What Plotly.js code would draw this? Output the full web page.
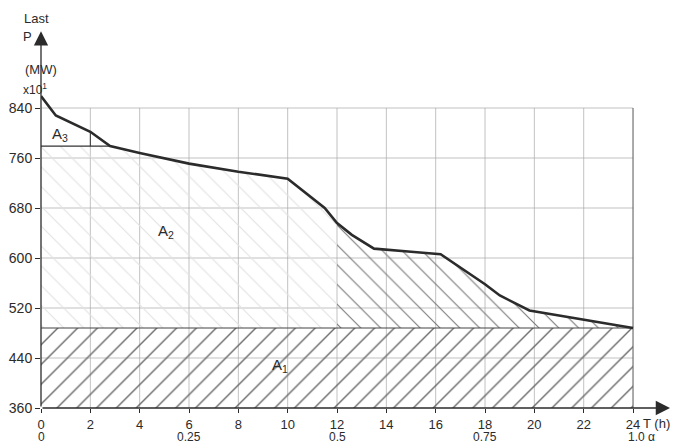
<!DOCTYPE html>
<html>
<head>
<meta charset="utf-8">
<script src="https://cdn.plot.ly/plotly-3.0.1.min.js"></script>
<style>html,body{margin:0;padding:0;background:#fff;}#chart{width:676px;height:443px;}</style>
</head>
<body>
<div id="chart"></div>
<script>
// Load duration curve (hours vs. load, MW x10)
const hours = [0, 0.6, 2.0, 2.8, 4, 6, 8, 10, 11.5, 12, 12.6, 13.5, 15, 16.2, 18, 18.6, 19.8, 22, 24];
const load  = [859, 828, 802, 779, 768, 751, 738, 727, 680, 656, 637, 615, 610, 606, 558, 540, 516, 501, 488];
const baseLoad = 488;      // A1 upper boundary
const peakLimit = 779;     // A3 lower boundary
const peakLimitEnd = 2.8;  // where A3 boundary meets the curve
const splitHour = 12;      // faint / dense hatching boundary in A2
const xTickVals = [0, 2, 4, 6, 8, 10, 12, 14, 16, 18, 20, 22, 24];
const yTickVals = [360, 440, 520, 600, 680, 760, 840];
const fracPos = [0, 6, 12, 18, 24];
const fracLabels = ['0', '0.25', '0.5', '0.75', '1.0 α'];
const gridX = [2, 4, 6, 8, 10, 12, 14, 16, 18, 20, 22];
const gridY = [440, 520, 600, 680, 760, 840];
const yMin = 360, yTop = 840, xEnd = 24;

const ink = '#2b2b2b';
const font = 'Liberation Sans, Arial, sans-serif';

// A2 polygons
function curveBetween(a, b) {
  const xs = [], ys = [];
  hours.forEach((h, i) => { if (h >= a && h <= b) { xs.push(h); ys.push(load[i]); } });
  return [xs, ys];
}
const [lx, ly] = curveBetween(peakLimitEnd, splitHour);
const a2Left = {
  x: [0, 0].concat(lx, [splitHour, 0]),
  y: [baseLoad, peakLimit].concat(ly, [baseLoad, baseLoad])
};
const [rx, ry] = curveBetween(splitHour, xEnd);
const a2Right = {
  x: [splitHour].concat(rx, [xEnd, splitHour]),
  y: [baseLoad].concat(ry, [baseLoad, baseLoad])
};

const traces = [
  { x: [0, xEnd, xEnd, 0, 0], y: [yMin, yMin, baseLoad, baseLoad, yMin], mode: 'lines', fill: 'toself',
    fillcolor: 'rgba(0,0,0,0)', line: { width: 0 },
    fillpattern: { shape: '/', fgcolor: '#6a6a6a', bgcolor: 'rgba(0,0,0,0)', size: 14, solidity: 0.1 },
    hoverinfo: 'skip', showlegend: false },
  { x: a2Left.x, y: a2Left.y, mode: 'lines', fill: 'toself', fillcolor: 'rgba(0,0,0,0)', line: { width: 0 },
    fillpattern: { shape: '\\', fgcolor: '#e2e2e2', bgcolor: 'rgba(0,0,0,0)', size: 14, solidity: 0.08 },
    hoverinfo: 'skip', showlegend: false },
  { x: a2Right.x, y: a2Right.y, mode: 'lines', fill: 'toself', fillcolor: 'rgba(0,0,0,0)', line: { width: 0 },
    fillpattern: { shape: '\\', fgcolor: '#7a7a7a', bgcolor: 'rgba(0,0,0,0)', size: 14, solidity: 0.08 },
    hoverinfo: 'skip', showlegend: false },
  // A1 boundary
  { x: [0, xEnd], y: [baseLoad, baseLoad], mode: 'lines', line: { color: '#444', width: 1.2 }, showlegend: false, hoverinfo: 'skip' },
  // A3 boundary
  { x: [0, peakLimitEnd], y: [peakLimit, peakLimit], mode: 'lines', line: { color: '#333', width: 1.2 }, showlegend: false, hoverinfo: 'skip' },
  { x: [2, 2], y: [peakLimit, load[hours.indexOf(2.0)]], mode: 'lines', line: { color: '#333', width: 1 }, showlegend: false, hoverinfo: 'skip' },
  // Load duration curve
  { x: hours, y: load, mode: 'lines', line: { color: ink, width: 2.6 }, showlegend: false }
];

const shapes = [];
gridX.forEach(g => shapes.push({ type: 'line', xref: 'x', yref: 'y', x0: g, x1: g, y0: yMin, y1: yTop,
  line: { color: '#a8a8a8', width: 0.7 }, layer: 'below' }));
gridY.forEach(g => shapes.push({ type: 'line', xref: 'x', yref: 'y', x0: 0, x1: xEnd, y0: g, y1: g,
  line: { color: '#a8a8a8', width: 0.7 }, layer: 'below' }));
shapes.push({ type: 'line', xref: 'x', yref: 'y', x0: xEnd, x1: xEnd, y0: yMin, y1: yTop,
  line: { color: '#555', width: 1 }, layer: 'below' });

const annotations = [
  // axes with arrows
  { x: 0, y: 963, ax: 0, ay: yMin, xref: 'x', yref: 'y', axref: 'x', ayref: 'y', text: '', showarrow: true,
    arrowhead: 2, arrowsize: 2.2, arrowwidth: 1.3, arrowcolor: ink },
  { x: 25.5, y: yMin, ax: 0, ay: yMin, xref: 'x', yref: 'y', axref: 'x', ayref: 'y', text: '', showarrow: true,
    arrowhead: 2, arrowsize: 2.2, arrowwidth: 1.3, arrowcolor: ink },
  // y axis labels
  { xref: 'paper', yref: 'paper', x: 0, y: 1.026, xshift: -19, yanchor: 'middle', text: 'Last', showarrow: false, font: { family: font, size: 13, color: ink } },
  { xref: 'paper', yref: 'paper', x: 0, y: 0.978, xshift: -20.5, yanchor: 'middle', text: 'P', showarrow: false, font: { family: font, size: 13, color: ink } },
  { xref: 'paper', yref: 'paper', x: 0, y: 0.892, xshift: -18, yanchor: 'middle', text: '(MW)', showarrow: false, font: { family: font, size: 13, color: ink } },
  { xref: 'paper', yref: 'paper', x: 0, y: 0.840, xshift: -20, yanchor: 'middle', text: 'x10<sup>1</sup>', showarrow: false, font: { family: font, size: 12, color: ink } },
  // x axis unit
  { xref: 'x', yref: 'paper', x: 24, y: -0.04, xshift: 8, xanchor: 'left', yanchor: 'middle', text: 'T (h)', showarrow: false, font: { family: font, size: 13, color: ink } },
  // area labels
  { x: 0.77, y: 797, xref: 'x', yref: 'y', text: 'A<sub>3</sub>', showarrow: false, font: { family: font, size: 15, color: ink } },
  { x: 5.05, y: 643, xref: 'x', yref: 'y', text: 'A<sub>2</sub>', showarrow: false, font: { family: font, size: 15, color: ink } },
  { x: 9.7, y: 428, xref: 'x', yref: 'y', text: 'A<sub>1</sub>', showarrow: false, font: { family: font, size: 15, color: ink } }
];
fracPos.forEach((p, i) => annotations.push({
  xref: 'x', yref: 'paper', x: p, y: -0.0763, yanchor: 'middle',
  xanchor: i === fracPos.length - 1 ? 'left' : 'center', xshift: i === fracPos.length - 1 ? -6 : 0,
  text: fracLabels[i], showarrow: false, borderpad: 0, font: { family: font, size: 12, color: ink }
}));

const layout = {
  width: 676, height: 443,
  margin: { l: 41, r: 4, t: 28, b: 35 },
  paper_bgcolor: '#fff', plot_bgcolor: '#fff',
  showlegend: false,
  font: { family: font, size: 14, color: ink },
  xaxis: { range: [0, 25.58], tickvals: xTickVals, ticktext: xTickVals.map(String), ticks: 'outside', ticklen: 4,
    ticklabelstandoff: 0,
    tickcolor: ink, showgrid: false, zeroline: false, showline: false, fixedrange: true,
    tickfont: { family: font, size: 13, color: ink } },
  yaxis: { range: [360, 968], tickvals: yTickVals, ticktext: yTickVals.map(String), ticks: 'outside', ticklen: 5,
    tickcolor: ink, showgrid: false, zeroline: false, showline: false, fixedrange: true,
    tickfont: { family: font, size: 14, color: ink } },
  shapes: shapes,
  annotations: annotations
};

Plotly.newPlot('chart', traces, layout, { staticPlot: true, displayModeBar: false });
</script>
</body>
</html>
